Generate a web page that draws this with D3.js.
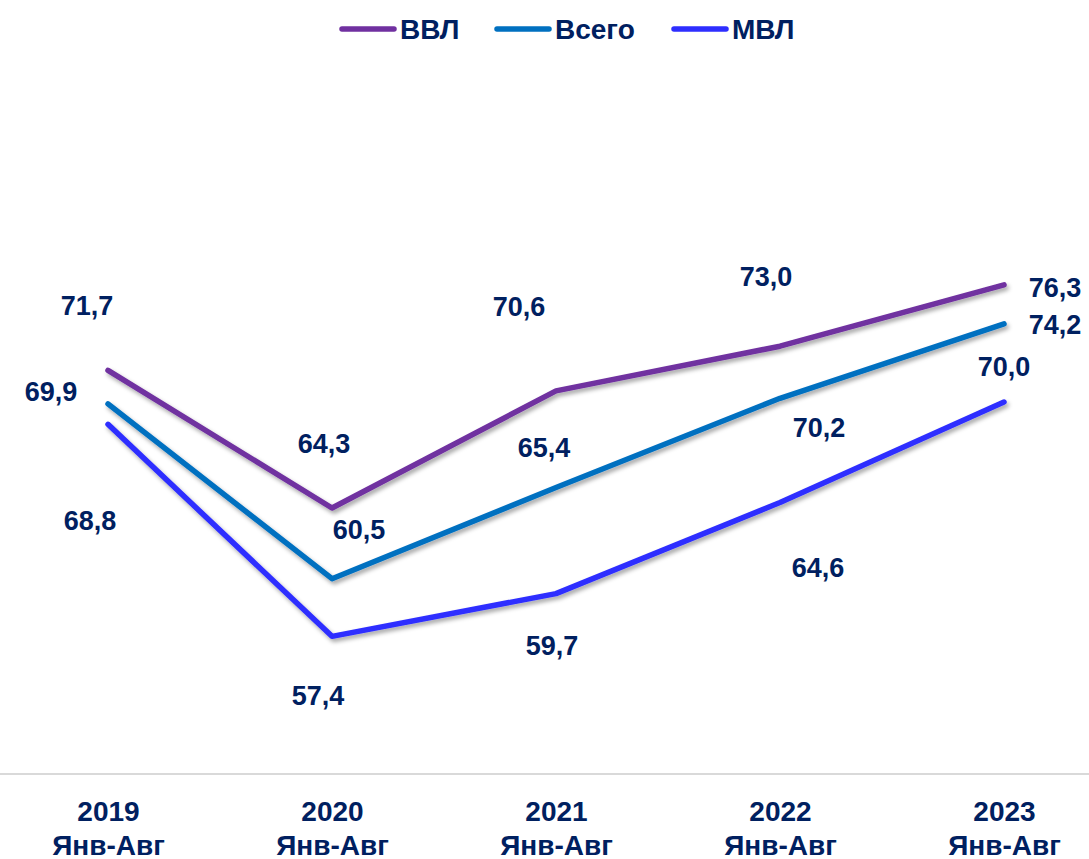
<!DOCTYPE html>
<html>
<head>
<meta charset="utf-8">
<script src="https://cdn.jsdelivr.net/npm/d3@7"></script>
<style>
  body { margin: 0; background: #fff; }
  text { font-family: "Liberation Sans", Arial, sans-serif; font-weight: bold; fill: #002060; }
</style>
</head>
<body>
<div id="chart"></div>
<script>
// categories and series
var years = ["2019", "2020", "2021", "2022", "2023"];
var period = "Янв-Авг";
var seriesNames = ["ВВЛ", "Всего", "МВЛ"];
var vvl = [71.7, 64.3, 70.6, 73.0, 76.3];
var total = [69.9, 60.5, 65.4, 70.2, 74.2];
var mvl = [68.8, 57.4, 59.7, 64.6, 70.0];

// hand placed label offsets from each point (dx, dy)
var vvlOffsets = [[-21, -65], [-8, -64], [-37, -84], [-14, -70], [51, 3]];
var totalOffsets = [[-57, -12], [27, -49], [-12, -40], [39, 29], [51, 1]];
var mvlOffsets = [[-18, 96], [-14, 59], [-4, 52], [38, 65], [0, -35]];

function draw() {
    const width = 1089;
    const height = 859;

    const colors = ["#7030a0", "#0070c0", "#2e2eff"];

    const series = [
        { name: seriesNames[0], values: vvl, offsets: vvlOffsets, color: colors[0] },
        { name: seriesNames[1], values: total, offsets: totalOffsets, color: colors[1] },
        { name: seriesNames[2], values: mvl, offsets: mvlOffsets, color: colors[2] }
    ];

    const svg = d3.select("#chart")
        .append("svg")
        .attr("width", width)
        .attr("height", height);

    // soft shadow under the lines
    const filter = svg.append("defs").append("filter")
        .attr("id", "shadow")
        .attr("x", "-10%").attr("y", "-10%")
        .attr("width", "130%").attr("height", "140%");
    filter.append("feDropShadow")
        .attr("dx", 2).attr("dy", 3)
        .attr("stdDeviation", 2)
        .attr("flood-color", "#000")
        .attr("flood-opacity", 0.35);

    const xScale = d3.scalePoint()
        .domain(years)
        .range([108, 1004]);

    const yScale = d3.scaleLinear()
        .domain([50, 90])
        .range([774, 30]);

    // x axis baseline
    svg.append("line")
        .attr("x1", 0)
        .attr("x2", width)
        .attr("y1", yScale(50))
        .attr("y2", yScale(50))
        .attr("stroke", "#d9d9d9")
        .attr("stroke-width", 2);

    // x axis labels
    const xAxis = svg.append("g")
        .attr("class", "x-axis")
        .attr("transform", `translate(0,${yScale(50)})`)
        .call(d3.axisBottom(xScale).tickSize(0).tickFormat(""));
    xAxis.select(".domain").remove();

    const tick = xAxis.selectAll(".tick");
    tick.append("text")
        .attr("y", 37)
        .attr("dy", "0.35em")
        .attr("text-anchor", "middle")
        .style("font-size", "28px")
        .style("fill", "#002060")
        .text(d => d);
    tick.append("text")
        .attr("y", 71)
        .attr("dy", "0.35em")
        .attr("text-anchor", "middle")
        .style("font-size", "28px")
        .style("fill", "#002060")
        .text(period);

    const line = d3.line()
        .x((d, i) => xScale(years[i]))
        .y(d => yScale(d));

    // lines
    svg.selectAll(".series-line")
        .data(series)
        .enter()
        .append("path")
        .attr("class", "series-line")
        .attr("d", d => line(d.values))
        .attr("fill", "none")
        .attr("stroke", d => d.color)
        .attr("stroke-width", 5.5)
        .attr("stroke-linecap", "round")
        .attr("stroke-linejoin", "round")
        .attr("filter", "url(#shadow)");

    // value labels
    series.forEach(function (s) {
        svg.append("g")
            .selectAll("text")
            .data(s.values)
            .enter()
            .append("text")
            .attr("x", (d, i) => xScale(years[i]) + s.offsets[i][0])
            .attr("y", (d, i) => yScale(d) + s.offsets[i][1])
            .attr("dy", "0.35em")
            .attr("text-anchor", "middle")
            .style("font-size", "27px")
            .text(d => d3.format(".1f")(d).replace(".", ","));
    });

    // legend
    const legendX = [340, 495, 672];
    const legend = svg.append("g").attr("class", "legend");
    const item = legend.selectAll(".legend-item")
        .data(series)
        .enter()
        .append("g")
        .attr("class", "legend-item")
        .attr("transform", (d, i) => `translate(${legendX[i]},29)`);

    item.append("line")
        .attr("x1", 2)
        .attr("x2", 54)
        .attr("stroke", d => d.color)
        .attr("stroke-width", 5.5)
        .attr("stroke-linecap", "round");

    item.append("text")
        .attr("x", 60)
        .attr("dy", "0.35em")
        .style("font-size", "28px")
        .text(d => d.name);
}

draw();
</script>
</body>
</html>
